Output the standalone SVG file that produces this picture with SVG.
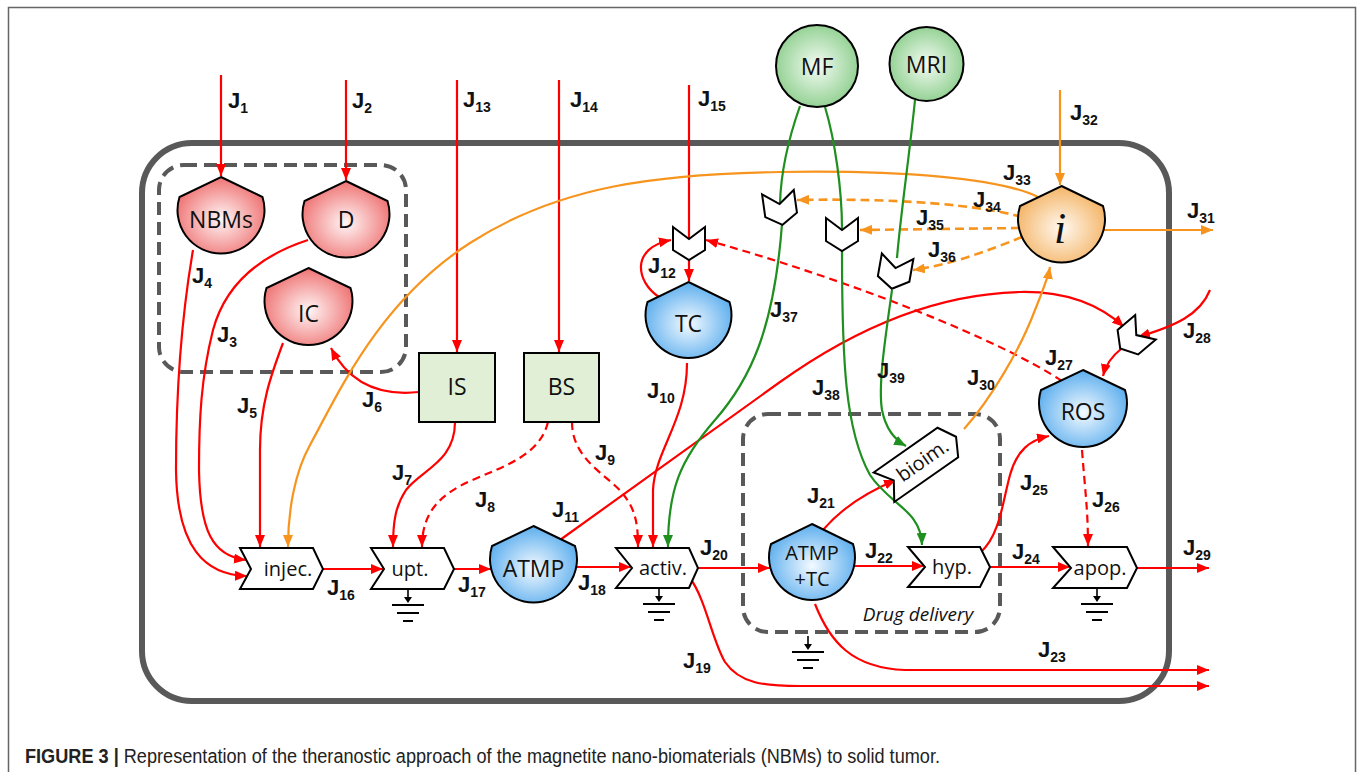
<svg xmlns="http://www.w3.org/2000/svg" xmlns:xlink="http://www.w3.org/1999/xlink" width="1360" height="772" viewBox="0 0 1360 772">
<style>
.r{fill:none;stroke:#ff0000;stroke-width:2.2}
.o{fill:none;stroke:#f7941e;stroke-width:2.2}
.g{fill:none;stroke:#1f8f1f;stroke-width:2.2}
.d{stroke-dasharray:8 5}
.od{stroke-dasharray:9 5;stroke-width:2.6}
.nd{stroke:#000;stroke-width:2}
.pr{fill:#fff;stroke:#000;stroke-width:2}
.nl{font-family:"Open Sans","Noto Sans",sans-serif;font-size:23px;fill:#111;text-anchor:middle}
.pl{font-family:"Open Sans","Noto Sans",sans-serif;font-size:20px;fill:#111;text-anchor:middle}
.j{font-family:"Liberation Sans",Arial,sans-serif;font-weight:bold;font-size:22px;fill:#111}
.s{font-size:14px}
.box{fill:none;stroke:#595959;stroke-width:4;stroke-dasharray:13 7}
</style>
<defs>
<radialGradient id="gRed" cx="50%" cy="55%" r="55%"><stop offset="0" stop-color="#fff6f6"/><stop offset="1" stop-color="#ef7373"/></radialGradient>
<radialGradient id="gBlue" cx="50%" cy="55%" r="55%"><stop offset="0" stop-color="#f4faff"/><stop offset="1" stop-color="#5caeee"/></radialGradient>
<radialGradient id="gOr" cx="50%" cy="55%" r="55%"><stop offset="0" stop-color="#fff9f0"/><stop offset="1" stop-color="#f4b466"/></radialGradient>
<radialGradient id="gGr" cx="50%" cy="50%" r="55%"><stop offset="0" stop-color="#f4fbf4"/><stop offset="1" stop-color="#8cce8c"/></radialGradient>
<marker id="aR" viewBox="0 0 12 10" refX="12" refY="5" markerWidth="12" markerHeight="10" markerUnits="userSpaceOnUse" orient="auto"><path d="M0,0 L12,5 L0,10 z" fill="#ff0000"/></marker>
<marker id="aO" viewBox="0 0 12 10" refX="12" refY="5" markerWidth="12" markerHeight="10" markerUnits="userSpaceOnUse" orient="auto"><path d="M0,0 L12,5 L0,10 z" fill="#f7941e"/></marker>
<marker id="aG" viewBox="0 0 12 10" refX="12" refY="5" markerWidth="12" markerHeight="10" markerUnits="userSpaceOnUse" orient="auto"><path d="M0,0 L12,5 L0,10 z" fill="#1f8f1f"/></marker>
<g id="gnd"><path d="M0,0 V10" stroke="#000" stroke-width="1.6"/><path d="M-4,8 L0,14 L4,8 z" fill="#000"/><path d="M-16,16 H16 M-11,24 H11 M-5,32 H5" stroke="#000" stroke-width="1.8"/></g>
<path id="valve" d="M-16,-15 L0,-3 L16,-15 L16,8 L0,18 L-16,8 Z" fill="#fff" stroke="#000" stroke-width="2"/>
</defs>

<rect x="8.5" y="7.5" width="1347" height="820" fill="#fff" stroke="#666" stroke-width="1.5"/>
<rect id="cell" x="142" y="143" width="1027" height="558" rx="50" fill="none" stroke="#595959" stroke-width="6"/>
<rect id="box-inputs" class="box" x="159" y="165" width="247" height="207" rx="25"/>
<g id="box-drug">
<rect class="box" x="743" y="414" width="257" height="218" rx="25"/>
<text x="918" y="621" font-family="'Open Sans','Noto Sans',sans-serif" font-style="italic" font-size="19" fill="#111" text-anchor="middle">Drug delivery</text>
</g>

<g id="connectors">
<path class="r" d="M221,75 V176" marker-end="url(#aR)"/>
<path class="r" d="M346,80 V180" marker-end="url(#aR)"/>
<path class="r" d="M308,240 C262,255 226,282 213,330 C201,378 199,420 199,470 C200,530 212,556 246,560" marker-end="url(#aR)"/>
<path class="r" d="M193,250 C181,320 176,400 176,470 C177,548 205,575 247,576" marker-end="url(#aR)"/>
<path class="r" d="M283,343 C271,375 260,405 260,450 V547" marker-end="url(#aR)"/>
<path class="r" d="M419,392 C382,396 350,385 331,348" marker-end="url(#aR)"/>
<path class="r" d="M455,422 C455,462 421,470 406,490 C396,505 393,520 393,547" marker-end="url(#aR)"/>
<path class="r d" d="M548,422 C540,455 505,466 470,481 C440,495 422,512 422,547" marker-end="url(#aR)"/>
<path class="r d" d="M572,422 C572,460 608,475 623,494 C636,510 638,525 638,547" marker-end="url(#aR)"/>
<path class="r" d="M687,363 C687,420 655,450 653,490 V547" marker-end="url(#aR)"/>
<path class="r" d="M560,540 L780,382 C850,332 930,294 1020,292 C1068,291 1100,305 1124,327" marker-end="url(#aR)"/>
<path class="r" d="M659,297 C636,282 630,248 671,240" marker-end="url(#aR)"/>
<path class="r" d="M457,80 V352" marker-end="url(#aR)"/>
<path class="r" d="M559,80 V352" marker-end="url(#aR)"/>
<path class="r" d="M689,85 V239"/>
<path class="r" d="M689,260 V281" marker-end="url(#aR)"/>
<path class="r" d="M323,569 H383" marker-end="url(#aR)"/>
<path class="r" d="M454,569 H491" marker-end="url(#aR)"/>
<path class="r" d="M575,567 H631" marker-end="url(#aR)"/>
<path class="r" d="M690,578 C706,600 712,640 725,662 C740,684 765,686 800,686 H1209" marker-end="url(#aR)"/>
<path class="r" d="M698,568 H770" marker-end="url(#aR)"/>
<path class="r" d="M823,530 C840,510 862,494 896,480" marker-end="url(#aR)"/>
<path class="r" d="M853,566 H924" marker-end="url(#aR)"/>
<path class="r" d="M815,604 C830,642 852,668 905,670 H1209" marker-end="url(#aR)"/>
<path class="r" d="M990,567 H1070" marker-end="url(#aR)"/>
<path class="r" d="M981,552 C1000,535 1003,500 1010,475 C1017,450 1030,440 1049,436" marker-end="url(#aR)"/>
<path class="r d" d="M1082,450 C1085,490 1088,510 1088,546" marker-end="url(#aR)"/>
<path class="r d" d="M1062,381 C1000,340 850,280 706,240" marker-end="url(#aR)"/>
<path class="r" d="M1210,290 C1200,315 1175,326 1138,337" marker-end="url(#aR)"/>
<path class="r" d="M1121,349 C1112,356 1106,364 1103,376" marker-end="url(#aR)"/>
<path class="r" d="M1137,568 H1209" marker-end="url(#aR)"/>
<path class="o" d="M964,429 C990,400 1020,350 1035,310 C1043,290 1048,278 1050,267" marker-end="url(#aO)"/>
<path class="o" d="M1103,230 H1213" marker-end="url(#aO)"/>
<path class="o" d="M1060,90 V185" marker-end="url(#aO)"/>
<path class="o" d="M1038,197 C1000,178 900,170 780,172 S560,185 470,243 S340,390 310,445 C295,472 288,510 288,547" marker-end="url(#aO)"/>
<path class="o od" d="M1022,217 C980,205 900,198 797,200" marker-end="url(#aO)"/>
<path class="o od" d="M1020,228 L860,230" marker-end="url(#aO)"/>
<path class="o od" d="M1022,237 C990,250 950,265 913,270" marker-end="url(#aO)"/>
<path class="g" d="M800,106 C788,140 781,170 780,203"/>
<path class="g" d="M782,224 C774,330 750,380 715,420 C680,460 668,490 668,547" marker-end="url(#aG)"/>
<path class="g" d="M825,107 C835,140 842,190 842,229"/>
<path class="g" d="M842,251 C842,360 845,430 870,475 C890,505 921,510 922,545" marker-end="url(#aG)"/>
<path class="g" d="M915,100 C910,150 900,220 897,258"/>
<path class="g" d="M892,290 C885,340 878,385 882,410 C886,430 895,440 906,446" marker-end="url(#aG)"/>
</g>

<g id="valves">
<use href="#valve" transform="translate(689,242)"/>
<use href="#valve" transform="translate(780,207) rotate(-8)"/>
<use href="#valve" transform="translate(842,233)"/>
<use href="#valve" transform="translate(895,271) rotate(10)"/>
<use href="#valve" transform="translate(1134,337) rotate(50)"/>
</g>

<g id="grounds">
<use href="#gnd" x="408" y="589"/>
<use href="#gnd" x="659" y="588"/>
<use href="#gnd" x="1097" y="588"/>
<use href="#gnd" x="808" y="636"/>
</g>

<g id="node-NBMs"><path class="nd" fill="url(#gRed)" d="M221,177 L262.5,197 A43.5,43.5 0 1 1 179.5,197 Z"/><text class="nl" x="221" y="228">NBMs</text></g>
<g id="node-D"><path class="nd" fill="url(#gRed)" d="M346,181 L387.5,201 A43.5,43.5 0 1 1 304.5,201 Z"/><text class="nl" x="346" y="228">D</text></g>
<g id="node-IC"><path class="nd" fill="url(#gRed)" d="M308.5,268 L350.5,288 A44,44 0 1 1 266.5,288 Z"/><text class="nl" x="308.5" y="322">IC</text></g>
<g id="node-TC"><path class="nd" fill="url(#gBlue)" d="M688.5,282 L729.5,302 A43,43 0 1 1 647.5,302 Z"/><text class="nl" x="688.5" y="332">TC</text></g>
<g id="node-ATMP"><path class="nd" fill="url(#gBlue)" d="M533.5,526 L575,546 A43.5,43.5 0 1 1 492,546 Z"/><text class="nl" x="533.5" y="577">ATMP</text></g>
<g id="node-ATMPTC"><path class="nd" fill="url(#gBlue)" d="M812,524 L853,544 A43,43 0 1 1 771,544 Z"/><text class="nl" style="font-size:20px"><tspan x="812" y="560">ATMP</tspan><tspan x="812" y="586">+TC</tspan></text></g>
<g id="node-ROS"><path class="nd" fill="url(#gBlue)" d="M1083,370 L1125,390 A44,44 0 1 1 1041,390 Z"/><text class="nl" x="1083" y="420">ROS</text></g>
<g id="node-i"><path class="nd" fill="url(#gOr)" d="M1061.5,186 L1103,206 A43.5,43.5 0 1 1 1020,206 Z"/><text x="1060" y="243" font-family="'Liberation Serif',serif" font-style="italic" font-size="44" fill="#111" text-anchor="middle">i</text></g>
<g id="node-MF"><circle class="nd" fill="url(#gGr)" cx="817" cy="66" r="41"/><text class="nl" x="817" y="75">MF</text></g>
<g id="node-MRI"><circle class="nd" fill="url(#gGr)" cx="926.5" cy="64" r="37"/><text class="nl" x="926.5" y="73">MRI</text></g>
<g id="node-IS"><rect class="nd" fill="#e0efd5" x="419" y="353" width="76" height="69"/><text class="nl" x="457" y="395">IS</text></g>
<g id="node-BS"><rect class="nd" fill="#e0efd5" x="524" y="353" width="75" height="69"/><text class="nl" x="561.5" y="395">BS</text></g>
<g id="node-injec"><polygon class="pr" points="240,548 313,548 323,569 313,589 240,589 251,569"/><text class="pl" x="288" y="576">injec.</text></g>
<g id="node-upt"><polygon class="pr" points="371,548 444,548 454,569 444,589 371,589 384,569"/><text class="pl" x="410" y="576">upt.</text></g>
<g id="node-activ"><polygon class="pr" points="616,548 689,548 698,568 689,588 616,588 632,568"/><text class="pl" x="663" y="575">activ.</text></g>
<g id="node-hyp"><polygon class="pr" points="908,547 980,547 990,567 980,587 908,587 925,567"/><text class="pl" x="952" y="574">hyp.</text></g>
<g id="node-apop"><polygon class="pr" points="1053,547 1127,547 1137,568 1127,588 1053,588 1071,568"/><text class="pl" x="1100" y="575">apop.</text></g>
<g id="node-bioim" transform="translate(920,462) rotate(-35)"><polygon class="pr" points="-44,-18 34,-18 44,0 34,18 -44,18 -32,0"/><text class="pl" x="3" y="7">bioim.</text></g>

<g id="labels">
<text class="j" x="228" y="108">J<tspan class="s" dy="5">1</tspan></text>
<text class="j" x="352" y="108">J<tspan class="s" dy="5">2</tspan></text>
<text class="j" x="217" y="342">J<tspan class="s" dy="5">3</tspan></text>
<text class="j" x="192" y="283">J<tspan class="s" dy="5">4</tspan></text>
<text class="j" x="237" y="413">J<tspan class="s" dy="5">5</tspan></text>
<text class="j" x="362" y="407">J<tspan class="s" dy="5">6</tspan></text>
<text class="j" x="392" y="480">J<tspan class="s" dy="5">7</tspan></text>
<text class="j" x="475" y="507">J<tspan class="s" dy="5">8</tspan></text>
<text class="j" x="595" y="460">J<tspan class="s" dy="5">9</tspan></text>
<text class="j" x="647" y="398">J<tspan class="s" dy="5">10</tspan></text>
<text class="j" x="552" y="517">J<tspan class="s" dy="5">11</tspan></text>
<text class="j" x="648" y="273">J<tspan class="s" dy="5">12</tspan></text>
<text class="j" x="463" y="107">J<tspan class="s" dy="5">13</tspan></text>
<text class="j" x="570" y="107">J<tspan class="s" dy="5">14</tspan></text>
<text class="j" x="698" y="106">J<tspan class="s" dy="5">15</tspan></text>
<text class="j" x="327" y="595">J<tspan class="s" dy="5">16</tspan></text>
<text class="j" x="458" y="592">J<tspan class="s" dy="5">17</tspan></text>
<text class="j" x="578" y="590">J<tspan class="s" dy="5">18</tspan></text>
<text class="j" x="683" y="668">J<tspan class="s" dy="5">19</tspan></text>
<text class="j" x="700" y="555">J<tspan class="s" dy="5">20</tspan></text>
<text class="j" x="807" y="503">J<tspan class="s" dy="5">21</tspan></text>
<text class="j" x="865" y="558">J<tspan class="s" dy="5">22</tspan></text>
<text class="j" x="1038" y="657">J<tspan class="s" dy="5">23</tspan></text>
<text class="j" x="1012" y="559">J<tspan class="s" dy="5">24</tspan></text>
<text class="j" x="1020" y="490">J<tspan class="s" dy="5">25</tspan></text>
<text class="j" x="1092" y="507">J<tspan class="s" dy="5">26</tspan></text>
<text class="j" x="1045" y="365">J<tspan class="s" dy="5">27</tspan></text>
<text class="j" x="1183" y="338">J<tspan class="s" dy="5">28</tspan></text>
<text class="j" x="1183" y="555">J<tspan class="s" dy="5">29</tspan></text>
<text class="j" x="967" y="385">J<tspan class="s" dy="5">30</tspan></text>
<text class="j" x="1187" y="218">J<tspan class="s" dy="5">31</tspan></text>
<text class="j" x="1070" y="120">J<tspan class="s" dy="5">32</tspan></text>
<text class="j" x="1003" y="180">J<tspan class="s" dy="5">33</tspan></text>
<text class="j" x="973" y="207">J<tspan class="s" dy="5">34</tspan></text>
<text class="j" x="916" y="225">J<tspan class="s" dy="5">35</tspan></text>
<text class="j" x="928" y="257">J<tspan class="s" dy="5">36</tspan></text>
<text class="j" x="770" y="317">J<tspan class="s" dy="5">37</tspan></text>
<text class="j" x="812" y="395">J<tspan class="s" dy="5">38</tspan></text>
<text class="j" x="877" y="378">J<tspan class="s" dy="5">39</tspan></text>
</g>

<text id="caption" x="25" y="763" font-family="'Liberation Sans',Arial,sans-serif" font-size="20" fill="#222" textLength="915" lengthAdjust="spacingAndGlyphs"><tspan font-weight="bold">FIGURE 3 | </tspan>Representation of the theranostic approach of the magnetite nano-biomaterials (NBMs) to solid tumor.</text>
</svg>
